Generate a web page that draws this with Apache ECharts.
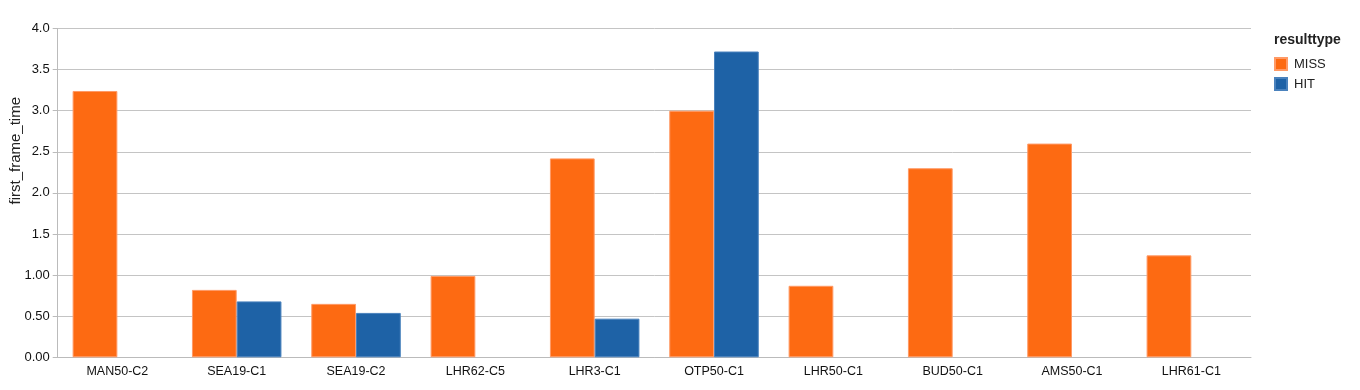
<!DOCTYPE html>
<html>
<head>
<meta charset="utf-8">
<script src="https://cdn.jsdelivr.net/npm/echarts@6/dist/echarts.min.js"></script>
<style>
html,body{margin:0;padding:0;background:#fff;}
#chart{width:1360px;height:390px;}
</style>
</head>
<body>
<div id="chart"></div>
<script>
const categories = ["MAN50-C2","SEA19-C1","SEA19-C2","LHR62-C5","LHR3-C1","OTP50-C1","LHR50-C1","BUD50-C1","AMS50-C1","LHR61-C1"];
const missValues = [3.24, 0.82, 0.65, 0.99, 2.42, 3.00, 0.87, 2.30, 2.60, 1.24];
const hitValues = [null, 0.68, 0.54, null, 0.47, 3.72, null, null, null, null];
const yTickLabels = ["0.00","0.50","1.00","1.5","2.0","2.5","3.0","3.5","4.0"];
const seriesNames = ["MISS","HIT"];
const legendTitle = "resulttype";
const yAxisName = "first_frame_time";

const FONT = "Liberation Sans, Arial, Helvetica, sans-serif";
const chart = echarts.init(document.getElementById('chart'), null, {renderer:'canvas'});
chart.setOption({
  animation: false,
  textStyle: {fontFamily: FONT},
  title: {
    text: legendTitle, left: 1274, top: 33, padding: 0,
    textStyle: {fontSize: 14, fontWeight: 'bold', color: '#222', fontFamily: FONT}
  },
  legend: {
    orient: 'vertical', left: 1274, top: 57, padding: 0,
    itemWidth: 12, itemHeight: 12, itemGap: 6,
    icon: 'rect',
    data: seriesNames,
    textStyle: {fontSize: 13, color: '#222', fontFamily: FONT, padding: [0,0,0,2]}
  },
  graphic: [{
    type: 'text', left: 8, top: 97,
    rotation: Math.PI/2,
    style: {text: yAxisName, fontSize: 15, fill: '#222', fontFamily: FONT}
  }],
  grid: {left: 57.7, right: 109, top: 28.5, bottom: 32.7, containLabel: false, outerBoundsMode: 'none'},
  xAxis: {
    type: 'category',
    data: categories,
    axisLine: {lineStyle: {color: '#bbb'}},
    axisTick: {alignWithLabel: true, length: 5, lineStyle: {color: '#bbb'}},
    axisLabel: {fontSize: 12.5, color: '#111', margin: 8, fontFamily: FONT, interval: 0}
  },
  yAxis: {
    type: 'value', min: 0, max: 4, interval: 0.5,
    axisLine: {show: true, lineStyle: {color: '#bbb'}},
    axisTick: {show: true, length: 5, lineStyle: {color: '#bbb'}},
    axisLabel: {fontSize: 13, color: '#111', margin: 8, fontFamily: FONT,
      formatter: function(v){ return yTickLabels[Math.round(v/0.5)]; }},
    splitLine: {lineStyle: {color: '#c4c4c4'}}
  },
  series: [
    {name: seriesNames[0], type: 'bar', data: missValues, barGap: '0%', barCategoryGap: '25%',
      itemStyle: {color: '#fd6a12', borderColor: '#ff9a66', borderWidth: 1}},
    {name: seriesNames[1], type: 'bar', data: hitValues,
      itemStyle: {color: '#1e62a6', borderColor: '#4a82bd', borderWidth: 1}}
  ]
});
</script>
</body>
</html>
